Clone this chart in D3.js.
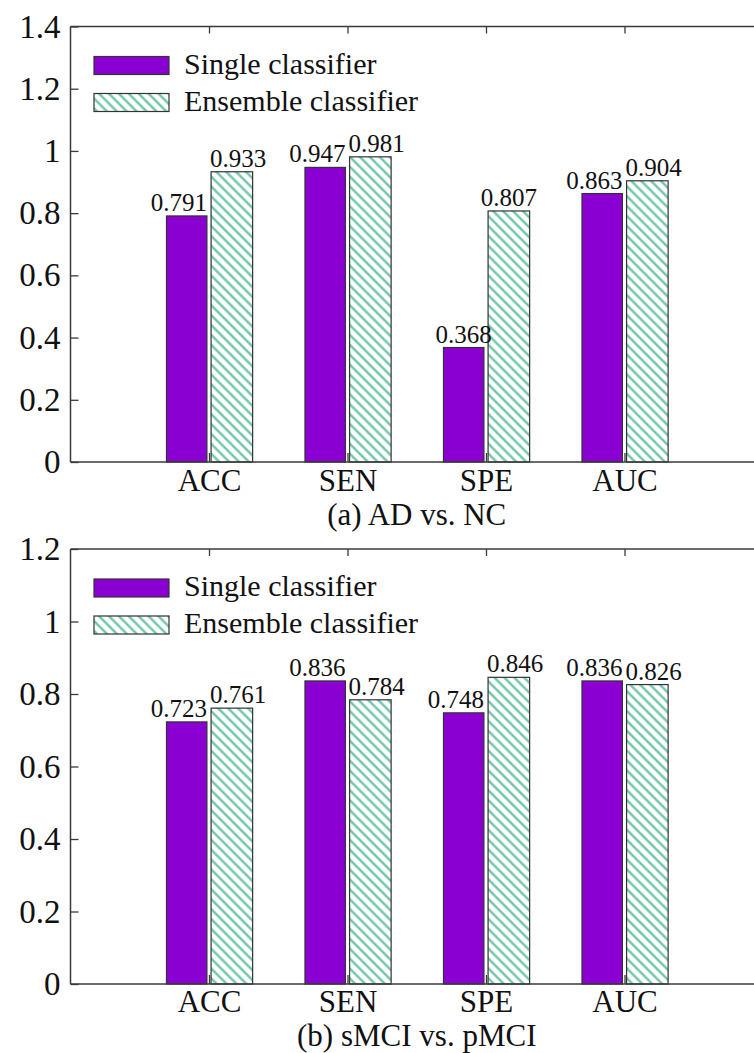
<!DOCTYPE html>
<html>
<head>
<meta charset="utf-8">
<script src="https://cdn.jsdelivr.net/npm/d3@7"></script>
<style>
  body { margin: 0; background: #fff; }
  svg text { font-family: "Liberation Serif", "Tinos", "Times New Roman", "DejaVu Serif", serif; fill: #111; }
</style>
</head>
<body>
<div id="chart"></div>
<script>
// Categories and series
const categories = ["ACC", "SEN", "SPE", "AUC"];
const seriesNames = ["Single classifier", "Ensemble classifier"];

// (a) AD vs. NC
const singleAD = [0.791, 0.947, 0.368, 0.863];
const ensembleAD = [0.933, 0.981, 0.807, 0.904];
const yTicksAD = [0, 0.2, 0.4, 0.6, 0.8, 1, 1.2, 1.4];

// (b) sMCI vs. pMCI
const singleMCI = [0.723, 0.836, 0.748, 0.836];
const ensembleMCI = [0.761, 0.784, 0.846, 0.826];
const yTicksMCI = [0, 0.2, 0.4, 0.6, 0.8, 1, 1.2];

const titles = ["(a) AD vs. NC", "(b) sMCI vs. pMCI"];

const W = 754, H = 1053;
const purple = "#8a00d2";
const hatchColor = "#62bfa0";
const axisColor = "#3a3a3a";
const serif = "'Liberation Serif', 'Tinos', 'Times New Roman', 'DejaVu Serif', serif";

const svg = d3.select("#chart").append("svg")
  .attr("width", W).attr("height", H)
  .attr("font-family", serif);

// Diagonal hatch for the ensemble bars
const pat = svg.append("defs").append("pattern")
  .attr("id", "hatch")
  .attr("patternUnits", "userSpaceOnUse")
  .attr("width", 7).attr("height", 7)
  .attr("patternTransform", "rotate(-45)");
pat.append("rect").attr("width", 7).attr("height", 7).attr("fill", "#fff");
pat.append("line")
  .attr("x1", 3.5).attr("y1", 0).attr("x2", 3.5).attr("y2", 7)
  .attr("stroke", hatchColor).attr("stroke-width", 2.2);

// x positions: categories at 1..4 on a 0..5 axis (right edge runs past the page)
const x = d3.scaleLinear().domain([0, 5]).range([70.5, 763]);

function drawPanel(top, bottom, yMax, yTicks, single, ensemble, title) {
  const y = d3.scaleLinear().domain([0, yMax]).range([bottom, top]);
  const g = svg.append("g");

  // caption and category label offsets below the axis (kept inside the page)
  const capGap = Math.min(63, H - 7 - bottom);
  const catGap = capGap - 34;

  const rows = categories.map((c, i) => ({
    c, pos: i + 1, s: single[i], e: ensemble[i]
  }));

  // Bars
  const bars = g.selectAll("g.cat").data(rows).enter().append("g");
  bars.append("rect")
    .attr("x", d => x(d.pos - 0.307))
    .attr("width", d => x(d.pos - 0.015) - x(d.pos - 0.307))
    .attr("y", d => y(d.s))
    .attr("height", d => y(0) - y(d.s))
    .attr("fill", purple)
    .attr("stroke", "#333").attr("stroke-width", 1.2);
  bars.append("rect")
    .attr("x", d => x(d.pos + 0.015))
    .attr("width", d => x(d.pos + 0.315) - x(d.pos + 0.015))
    .attr("y", d => y(d.e))
    .attr("height", d => y(0) - y(d.e))
    .attr("fill", "url(#hatch)")
    .attr("stroke", "#333").attr("stroke-width", 1.2);

  // Value labels
  const split = d => Math.abs(d.s - d.e) < 0.3;
  bars.append("text")
    .attr("x", d => split(d) ? x(d.pos - 0.015) : (x(d.pos - 0.307) + x(d.pos - 0.015)) / 2)
    .attr("text-anchor", d => split(d) ? "end" : "middle")
    .attr("y", d => y(d.s) - 5)
    .attr("font-size", 25)
    .text(d => d.s.toFixed(3));
  bars.append("text")
    .attr("x", d => split(d) ? x(d.pos + 0.015) - 1 : (x(d.pos + 0.015) + x(d.pos + 0.315)) / 2)
    .attr("text-anchor", d => split(d) ? "start" : "middle")
    .attr("y", d => y(d.e) - 5)
    .attr("font-size", 25)
    .text(d => d.e.toFixed(3));

  // Frame lines: top, left, bottom
  g.append("line").attr("x1", x(0)).attr("x2", x(5)).attr("y1", top).attr("y2", top)
    .attr("stroke", axisColor).attr("stroke-width", 1.5);
  g.append("line").attr("x1", x(0)).attr("x2", x(5)).attr("y1", bottom).attr("y2", bottom)
    .attr("stroke", axisColor).attr("stroke-width", 1.5);
  g.append("line").attr("x1", x(0)).attr("x2", x(0)).attr("y1", top).attr("y2", bottom)
    .attr("stroke", axisColor).attr("stroke-width", 1.5);

  // Left axis, ticks pointing inward
  const yAxis = g.append("g")
    .attr("transform", `translate(${x(0)},0)`)
    .call(d3.axisLeft(y).tickValues(yTicks).tickSize(-8).tickSizeOuter(0)
      .tickPadding(10).tickFormat(d3.format("~g")));
  yAxis.attr("font-family", serif);
  yAxis.select(".domain").remove();
  yAxis.selectAll("line").attr("stroke", axisColor).attr("stroke-width", 1.3);
  yAxis.selectAll("text").attr("font-size", 33).attr("fill", "#111");

  // Bottom axis with category labels (baseline at bottom + catGap)
  const xAxis = g.append("g")
    .attr("transform", `translate(0,${bottom})`)
    .call(d3.axisBottom(x).tickValues([1, 2, 3, 4]).tickSize(-9).tickSizeOuter(0)
      .tickPadding(catGap - 22).tickFormat(d => categories[d - 1]));
  xAxis.attr("font-family", serif);
  xAxis.select(".domain").remove();
  xAxis.selectAll("line").attr("stroke", axisColor).attr("stroke-width", 1.3);
  xAxis.selectAll("text").attr("font-size", 31).attr("fill", "#111");

  // Top axis: ticks only
  const topAxis = g.append("g")
    .attr("transform", `translate(0,${top})`)
    .call(d3.axisTop(x).tickValues([1, 2, 3, 4]).tickSize(-7).tickSizeOuter(0).tickFormat(""));
  topAxis.select(".domain").remove();
  topAxis.selectAll("line").attr("stroke", axisColor).attr("stroke-width", 1.3);

  // Panel caption
  g.append("text")
    .attr("x", x(2.5)).attr("y", bottom + capGap)
    .attr("text-anchor", "middle").attr("font-size", 31)
    .text(title);

  // Legend
  const leg = g.selectAll("g.leg").data(seriesNames).enter().append("g")
    .attr("transform", (d, i) => `translate(94,${top + 30 + i * 37})`);
  leg.append("rect")
    .attr("width", 75).attr("height", 18)
    .attr("fill", (d, i) => i === 0 ? purple : "url(#hatch)")
    .attr("stroke", "#333").attr("stroke-width", 1.2);
  leg.append("text")
    .attr("x", 90).attr("y", 17)
    .attr("font-size", 30)
    .text(d => d);
}

drawPanel(26.5, 462, 1.4, yTicksAD, singleAD, ensembleAD, titles[0]);
drawPanel(549, 984, 1.2, yTicksMCI, singleMCI, ensembleMCI, titles[1]);
</script>
</body>
</html>
